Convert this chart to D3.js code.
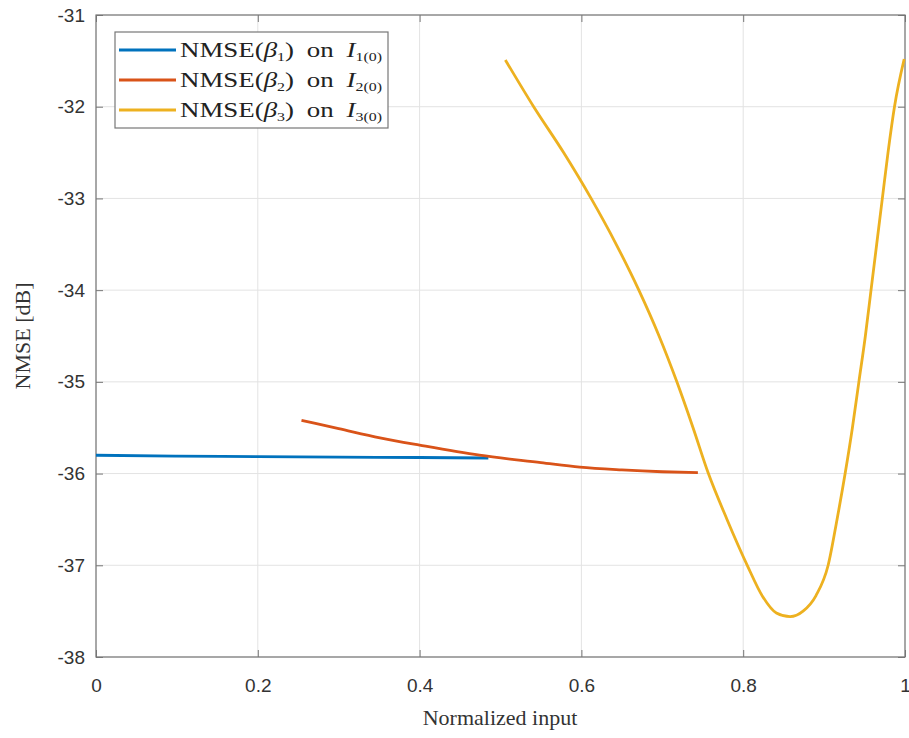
<!DOCTYPE html>
<html>
<head>
<meta charset="utf-8">
<script src="https://cdn.jsdelivr.net/npm/d3@7"></script>
<style>
  html, body { margin: 0; padding: 0; background: #fff; }
  svg { display: block; }
</style>
</head>
<body>
<svg id="chart" width="909" height="738"></svg>
<script>
// ---- Data ----
const xTicks = [0, 0.2, 0.4, 0.6, 0.8, 1];
const xTickLabels = ["0", "0.2", "0.4", "0.6", "0.8", "1"];
const yTicks = [-31, -32, -33, -34, -35, -36, -37, -38];
const yTickLabels = ["-31", "-32", "-33", "-34", "-35", "-36", "-37", "-38"];

const seriesNames = ["1", "2", "3"];
const seriesColors = ["#0072BD", "#D95319", "#EDB120"];

const s1x = [0.000, 0.100, 0.200, 0.300, 0.400, 0.485];
const s1y = [-35.80, -35.81, -35.815, -35.82, -35.825, -35.83];

const s2x = [0.254, 0.300, 0.351, 0.400, 0.474, 0.550, 0.598, 0.650, 0.700, 0.744];
const s2y = [-35.42, -35.51, -35.61, -35.69, -35.80, -35.88, -35.93, -35.96, -35.98, -35.99];

const s3x = [0.506, 0.541, 0.578, 0.612, 0.643, 0.671, 0.696, 0.718, 0.738, 0.757, 0.780, 0.805, 0.824, 0.841, 0.858, 0.874, 0.890, 0.905, 0.916, 0.926, 0.935, 0.943, 0.951, 0.958, 0.965, 0.972, 0.979, 0.987, 0.999];
const s3y = [-31.49, -32.00, -32.50, -33.00, -33.50, -34.00, -34.50, -35.00, -35.50, -36.00, -36.50, -37.00, -37.34, -37.52, -37.56, -37.50, -37.33, -37.00, -36.50, -36.00, -35.50, -35.00, -34.50, -34.00, -33.50, -33.00, -32.50, -32.00, -31.48];

const xLabel = "Normalized input";
const yLabel = "NMSE [dB]";

// ---- Layout ----
const svg = d3.select("#chart");
const L = 96, R = 905, T = 15, B = 657;
const x = d3.scaleLinear().domain([0, 1]).range([L, R]);
const y = d3.scaleLinear().domain([-38, -31]).range([B, T]);

const axisColor = "#777";
const textColor = "#333";
const sans = "'Liberation Sans', Arial, Helvetica, sans-serif";
const serif = "'Liberation Serif', 'Times New Roman', 'DejaVu Serif', serif";

// grid
const grid = svg.append("g");
grid.selectAll("line.gx").data(xTicks).enter().append("line")
  .attr("x1", d => x(d)).attr("x2", d => x(d)).attr("y1", T).attr("y2", B)
  .attr("stroke", "#e3e3e3").attr("stroke-width", 1);
grid.selectAll("line.gy").data(yTicks).enter().append("line")
  .attr("x1", L).attr("x2", R).attr("y1", d => y(d)).attr("y2", d => y(d))
  .attr("stroke", "#e3e3e3").attr("stroke-width", 1);

// axes via d3 axes (ticks inward)
const xAxis = d3.axisBottom(x).tickValues(xTicks).tickFormat((d, i) => xTickLabels[i]).tickSizeInner(-7).tickSizeOuter(0).tickPadding(22);
const yAxis = d3.axisLeft(y).tickValues(yTicks).tickFormat((d, i) => yTickLabels[i]).tickSizeInner(-7).tickSizeOuter(0).tickPadding(11);
const xAxisTop = d3.axisTop(x).tickValues(xTicks).tickFormat("").tickSizeInner(-7).tickSizeOuter(0);
const yAxisRight = d3.axisRight(y).tickValues(yTicks).tickFormat("").tickSizeInner(-7).tickSizeOuter(0);

function styleAxis(g) {
  g.select(".domain").remove();
  g.selectAll(".tick line").attr("stroke", axisColor);
  g.selectAll(".tick text").attr("fill", textColor).style("font-family", sans).style("font-size", "19px");
}
svg.append("g").attr("transform", `translate(0,${B})`).call(xAxis).call(styleAxis);
svg.append("g").attr("transform", `translate(${L},0)`).call(yAxis).call(styleAxis);
svg.append("g").attr("transform", `translate(0,${T})`).call(xAxisTop).call(styleAxis);
svg.append("g").attr("transform", `translate(${R},0)`).call(yAxisRight).call(styleAxis);

// box
svg.append("rect").attr("x", L).attr("y", T).attr("width", R - L).attr("height", B - T)
  .attr("fill", "none").attr("stroke", axisColor).attr("stroke-width", 1.2);

// lines
const line = d3.line().x(d => x(d[0])).y(d => y(d[1])).curve(d3.curveMonotoneX);
const series = [
  d3.zip(s1x, s1y),
  d3.zip(s2x, s2y),
  d3.zip(s3x, s3y)
];
series.forEach((pts, i) => {
  svg.append("path").datum(pts)
    .attr("d", line)
    .attr("fill", "none")
    .attr("stroke", seriesColors[i])
    .attr("stroke-width", 2.8)
    .attr("stroke-linejoin", "round");
});

// axis titles
svg.append("text").attr("x", 500).attr("y", 725)
  .attr("text-anchor", "middle").attr("fill", textColor)
  .style("font-family", serif).style("font-size", "22px").text(xLabel);
svg.append("text").attr("transform", `translate(30,${(T + B) / 2}) rotate(-90)`)
  .attr("text-anchor", "middle").attr("fill", textColor)
  .style("font-family", serif).style("font-size", "22px").text(yLabel);

// legend
const lg = svg.append("g");
lg.append("rect").attr("x", 115).attr("y", 32).attr("width", 273).attr("height", 96)
  .attr("fill", "#fff").attr("stroke", axisColor).attr("stroke-width", 1.2);
const rowY = [50, 80, 110];
seriesNames.forEach((n, i) => {
  lg.append("line").attr("x1", 119).attr("x2", 176).attr("y1", rowY[i]).attr("y2", rowY[i])
    .attr("stroke", seriesColors[i]).attr("stroke-width", 2.8);
  const t = lg.append("text").attr("x", 180).attr("y", rowY[i] + 7)
    .attr("fill", "#222").style("font-family", serif).style("font-size", "22px")
    .style("word-spacing", "5px")
    .attr("textLength", 202).attr("lengthAdjust", "spacingAndGlyphs");
  t.append("tspan").text("NMSE(");
  t.append("tspan").attr("font-style", "italic").text("β");
  t.append("tspan").attr("font-size", "13px").attr("dy", 4).text(n);
  t.append("tspan").attr("dy", -4).text(") on ");
  t.append("tspan").attr("font-style", "italic").text("I");
  t.append("tspan").attr("font-size", "13px").attr("dy", 4).text(n + "(0)");
});
</script>
</body>
</html>
